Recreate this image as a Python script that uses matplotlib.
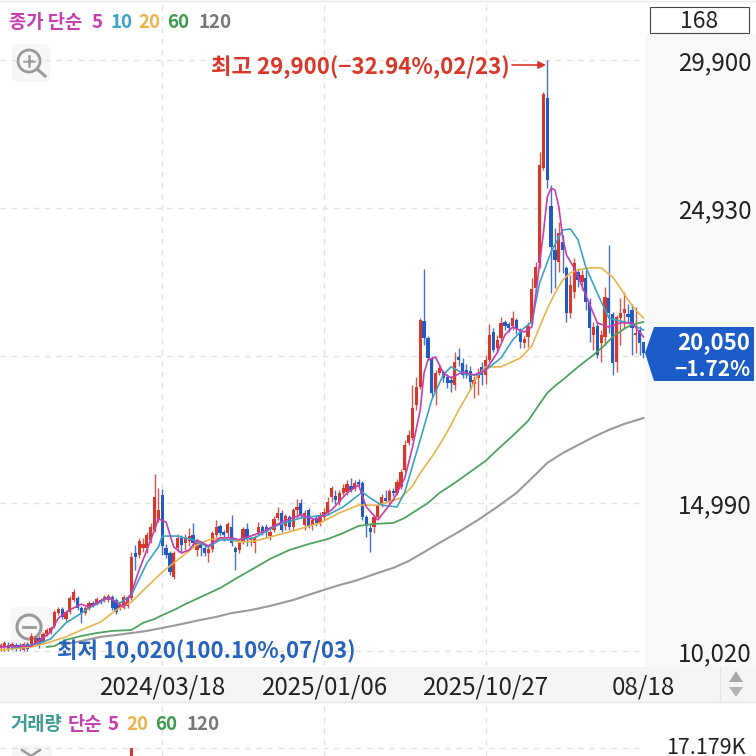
import numpy as np
import matplotlib
matplotlib.use("Agg")
import matplotlib.pyplot as plt
from matplotlib.patches import Circle, FancyBboxPatch, Polygon, Rectangle

plt.rcParams['font.family'] = ['Noto Sans CJK KR', 'DejaVu Sans']

# ------------------------
# DATA (weekly candles)
# ------------------------
opens = [
    10130, 10160, 10230, 10160, 10230, 10230, 10060, 10260, 10260, 10290,
    10460, 10330, 10600, 10660, 10870, 11300, 11440, 11100, 11340, 11740,
    11810, 11470, 11300, 11470, 11640, 11640, 11740, 11740, 11740, 11840,
    11740, 11470, 11500, 11540, 11810, 13320, 13250, 13490, 13490, 13760,
    14100, 14430, 15270, 13490, 13320, 12510, 13490, 13830, 13660, 13720,
    13930, 13420, 13620, 13490, 13320, 13460, 13930, 14230, 14030, 13990,
    14200, 13490, 13420, 13690, 14130, 13760, 13660, 14030, 14200, 14200,
    13890, 14100, 14500, 14670, 14230, 14530, 14200, 14770, 15000, 14260,
    14770, 14260, 14500, 14330, 14530, 14670, 15200, 15240, 15040, 15340,
    15370, 15570, 15470, 15710, 15680, 14530, 14160, 14200, 14530, 14930,
    15170, 15040, 15400, 15340, 15540, 16110, 17020, 17190, 18300, 18900,
    21120, 20550, 19880, 18730, 19380, 19410, 19240, 19140, 18970, 19910,
    19710, 19470, 19440, 19000, 19210, 19580, 19310, 19810, 20750, 20210,
    20550, 21090, 21020, 20950, 21160, 20820, 20380, 20590, 21090, 22230,
    23070, 26270, 28620, 24990, 23510, 23110, 23780, 22910, 21390, 22100,
    22770, 22430, 22570, 21760, 20650, 20950, 20380, 20590, 21900, 21360,
    19740, 21220, 21390, 21360, 21490, 20650, 20820, 20400,
]
highs = [
    10290, 10360, 10330, 10330, 10290, 10290, 10330, 10330, 10630, 10530,
    10530, 10660, 10800, 10870, 11410, 11500, 11500, 11410, 11870, 12110,
    11870, 11540, 11540, 11710, 11710, 11840, 11810, 11910, 11940, 11910,
    11810, 11640, 11910, 11910, 13360, 13590, 13830, 13830, 14030, 14330,
    15980, 15510, 15470, 13620, 13390, 13390, 13960, 13930, 13960, 14160,
    14330, 13760, 13720, 13590, 13590, 14060, 14430, 14300, 14100, 14360,
    14600, 13560, 13720, 14200, 14330, 13890, 13930, 14360, 14270, 14300,
    14100, 14570, 14870, 14770, 14630, 14600, 14830, 15140, 15140, 14770,
    14830, 14500, 14600, 14700, 14830, 15200, 15570, 15440, 15440, 15640,
    15780, 15840, 15780, 15810, 15740, 14600, 14300, 14600, 15000, 15310,
    15440, 15470, 15510, 15810, 16150, 17120, 17460, 18970, 19240, 21230,
    22870, 20620, 19950, 19470, 19640, 19470, 19340, 19270, 20080, 20210,
    19880, 19680, 19610, 19270, 19540, 19740, 19980, 21020, 20890, 20650,
    21260, 21160, 21090, 21460, 21220, 20890, 20620, 21090, 22570, 23110,
    26810, 28820, 29900, 25700, 24250, 24450, 24010, 22970, 22670, 23240,
    22910, 22840, 22840, 21900, 21090, 21090, 20820, 22270, 23680, 21430,
    21330, 21900, 22100, 21680, 21680, 21590, 20950, 20420,
]
lows = [
    10030, 10030, 10030, 10060, 10030, 10020, 10030, 10030, 10190, 10190,
    10130, 10260, 10530, 10600, 10800, 11230, 11100, 11030, 11270, 11670,
    11410, 10970, 11230, 11410, 11500, 11570, 11600, 11670, 11670, 11410,
    11270, 11410, 11440, 11470, 11740, 12750, 13150, 13360, 13320, 13660,
    14030, 14360, 13250, 13150, 12580, 12440, 13360, 13320, 13420, 13560,
    13560, 13220, 13220, 13220, 13020, 13360, 13860, 13890, 13720, 13860,
    13560, 12750, 13320, 13620, 13560, 13560, 13320, 13930, 13930, 13830,
    13760, 14030, 14430, 14030, 14100, 14100, 14100, 14500, 14530, 14100,
    14160, 14100, 14230, 14230, 14430, 14600, 15040, 14970, 14930, 15270,
    15270, 15370, 15400, 15570, 14430, 13860, 13360, 13990, 14470, 14870,
    15000, 14930, 15240, 15270, 15470, 16050, 16950, 17120, 18130, 18830,
    20320, 19810, 18570, 18300, 19310, 19070, 18870, 18730, 18800, 19610,
    19210, 19210, 18800, 18530, 18640, 18970, 19000, 19740, 20080, 20080,
    20450, 20820, 20750, 20820, 20680, 20210, 20210, 20250, 21020, 22100,
    22900, 26200, 25590, 22060, 22230, 22770, 22740, 21090, 21220, 21900,
    22270, 22170, 21490, 20420, 20150, 19880, 19740, 20320, 20720, 19310,
    19410, 20320, 20890, 21090, 19980, 20050, 19980, 19880,
]
closes = [
    10230, 10290, 10090, 10260, 10090, 10130, 10260, 10090, 10530, 10460,
    10230, 10600, 10730, 10800, 11340, 11440, 11170, 11340, 11810, 12010,
    11470, 11300, 11470, 11640, 11570, 11770, 11670, 11840, 11870, 11470,
    11340, 11570, 11840, 11840, 13190, 13190, 13720, 13620, 13930, 14200,
    15200, 14770, 13560, 13250, 12680, 13320, 13830, 13590, 13860, 13890,
    13660, 13660, 13490, 13320, 13460, 13990, 14200, 13990, 13930, 14300,
    13660, 13360, 13660, 14130, 13830, 13830, 13860, 14200, 14030, 14030,
    14030, 14470, 14670, 14100, 14570, 14200, 14770, 14870, 14600, 14670,
    14230, 14430, 14330, 14600, 14700, 15040, 15510, 15100, 15340, 15510,
    15640, 15440, 15680, 15640, 14530, 14230, 14030, 14530, 14930, 15200,
    15070, 15400, 15340, 15710, 16050, 16950, 17290, 18200, 18900, 21160,
    20550, 19880, 18700, 19380, 19540, 19210, 19040, 19040, 19740, 19810,
    19310, 19310, 19070, 19140, 19380, 19310, 19810, 20650, 20150, 20480,
    21050, 20950, 20890, 21220, 20850, 20420, 20520, 20950, 22200, 22940,
    26370, 28760, 25870, 23610, 23180, 24080, 23510, 21390, 22330, 23070,
    22500, 22670, 21760, 20890, 20920, 19980, 20650, 21930, 21390, 19710,
    21260, 21390, 21530, 21260, 20890, 20720, 20380, 20050,
]

ma5_idx = [0, 8, 11, 13, 15, 18, 21, 23, 25, 28, 30, 32, 34, 36, 38, 40, 41, 43, 45, 47,
           49, 51, 54, 57, 60, 62, 68, 73, 78, 82, 86, 90, 93, 95, 98, 102, 105, 107, 109, 110,
           111, 113, 115, 117, 120, 123, 126, 129, 131, 133, 136, 138, 139, 141, 142, 143, 144, 145, 146, 147,
           149, 152, 155, 158, 161, 164, 167]
ma5_val = [10160, 10190, 10460, 10660, 11130, 11410, 11600, 11500, 11640, 11840, 11670, 11500, 11980, 12750, 13420, 14100, 14470, 14360, 13520, 13320,
           13420, 13760, 13560, 13830, 13830, 13760, 14030, 14360, 14600, 14430, 14770, 15340, 15610, 14870, 14430, 15100, 15840, 16880, 18130, 19370,
           19810, 19910, 19370, 19210, 19410, 19310, 19470, 20050, 20650, 20920, 20750, 20920, 22000, 24080, 25290, 25590, 25530, 24960, 23950, 23340,
           22910, 22000, 21060, 20920, 21060, 21060, 20590]

ma10_idx = [3, 8, 11, 13, 17, 21, 23, 28, 31, 34, 38, 41, 42, 46, 50, 54, 57, 61, 66, 72,
            78, 85, 89, 94, 96, 99, 103, 105, 109, 112, 115, 117, 121, 124, 126, 130, 133, 136, 138, 140,
            143, 146, 148, 150, 152, 155, 158, 163, 167]
ma10_val = [10130, 10230, 10330, 10430, 10970, 11300, 11470, 11810, 11640, 11910, 12980, 13520, 13890, 13890, 13760, 13520, 13760, 13760, 13830, 14260,
            14500, 14600, 14870, 15370, 15170, 14930, 14870, 15370, 17120, 18470, 19310, 19580, 19310, 19310, 19470, 19880, 20480, 20890, 21090, 22400,
            23440, 24180, 24220, 23850, 22940, 22060, 21220, 21060, 20820]

ma20_idx = [0, 8, 13, 17, 21, 26, 30, 34, 38, 42, 47, 51, 54, 57, 62, 66, 75, 83, 88, 93,
            98, 104, 107, 109, 112, 114, 117, 119, 122, 124, 126, 130, 135, 138, 140, 142, 144, 146, 148, 150,
            153, 156, 159, 161, 163, 165, 167]
ma20_val = [10060, 10160, 10330, 10500, 10730, 11000, 11400, 11670, 12180, 12680, 13190, 13590, 13760, 13830, 13690, 13720, 14030, 14330, 14670, 14930,
            14930, 15170, 15570, 16010, 16550, 16950, 17620, 18130, 18800, 19310, 19580, 19580, 19880, 20280, 20920, 21530, 22060, 22500, 22740, 22840,
            22910, 22910, 22600, 22230, 21830, 21490, 21220]

ma60_idx = [12, 14, 17, 21, 25, 29, 34, 37, 40, 42, 45, 48, 52, 57, 61, 66, 70, 75, 80, 85,
            89, 93, 97, 102, 105, 107, 111, 114, 118, 122, 126, 129, 133, 137, 140, 142, 144, 146, 150, 154,
            157, 159, 162, 164, 167]
ma60_val = [10160, 10190, 10400, 10530, 10630, 10700, 10730, 10970, 11100, 11230, 11400, 11600, 11840, 12140, 12450, 12820, 13120, 13420, 13620, 13790,
            13990, 14230, 14300, 14330, 14500, 14670, 15000, 15340, 15680, 16050, 16420, 16790, 17260, 17760, 18330, 18700, 18940, 19140, 19580, 19980,
            20320, 20590, 20860, 21000, 21090]

ma120_idx = [16, 21, 26, 30, 34, 38, 42, 47, 52, 56, 60, 65, 70, 76, 80, 84, 88, 92, 98, 102,
             106, 110, 114, 119, 124, 129, 134, 138, 142, 146, 150, 154, 158, 162, 167]
ma120_val = [10230, 10360, 10500, 10560, 10630, 10700, 10800, 10930, 11070, 11170, 11300, 11400, 11540, 11740, 11910, 12080, 12240, 12380, 12650, 12820,
             13050, 13350, 13660, 14030, 14430, 14870, 15340, 15840, 16350, 16680, 16950, 17220, 17460, 17660, 17860]

vol_idx = [34]
vol_val = [17179]

price_ticks = [29900, 24930, 19960, 14990, 10020]
price_labels = ['29,900', '24,930', '', '14,990', '10,020']
date_ticks = [42, 84, 126, 167]
date_labels = ['2024/03/18', '2025/01/06', '2025/10/27', '08/18']

RED = '#d8382a'
BLUE = '#2259c4'
MAGENTA = '#c53fb0'
TEAL = '#3aa3c6'
ORANGE = '#e9b44c'
GREEN = '#4ea35f'
GRAY = '#9a9a9a'
GRID = '#e2e2e2'
W = H = 756
LABEL_SIZE = 17.4


def px_rect(left, top, right, bottom):
    return [left / W, 1 - bottom / H, (right - left) / W, (bottom - top) / H]


def px_overlay(fig, zorder):
    a = fig.add_axes([0, 0, 1, 1], zorder=zorder)
    a.set_xlim(0, W)
    a.set_ylim(H, 0)
    a.axis('off')
    return a


fig = plt.figure(figsize=(7.56, 7.56), dpi=100, facecolor='white')

# ------------------------
# BACKGROUND PANELS AND ICONS
# ------------------------
bg = px_overlay(fig, 0)
bg.add_patch(Rectangle((645, 34), 111, 633, color='#f8f9fb', lw=0))
bg.add_patch(Rectangle((0, 667), 756, 35, color='#f5f5f5', lw=0))
bg.plot([0, 756], [702, 702], color='#e4e4e4', lw=1)
bg.plot([0, 756], [0.5, 0.5], color='#e8e8e8', lw=1)
bg.plot([720, 720], [667, 702], color='#e6e6e6', lw=1)
bg.add_patch(Polygon([(736, 671), (743, 682), (729, 682)], color='#a8a8a8', lw=0))
bg.add_patch(Polygon([(729, 687), (743, 687), (736, 697)], color='#b4b4b4', lw=0))
bg.add_patch(FancyBboxPatch((12, 44), 38, 38, boxstyle='round,pad=0,rounding_size=6', fc='#f7f7f7', ec='none'))
bg.add_patch(FancyBboxPatch((10, 607), 42, 42, boxstyle='round,pad=0,rounding_size=6', fc='#f7f7f7', ec='none'))
bg.add_patch(FancyBboxPatch((12, 745), 40, 30, boxstyle='round,pad=0,rounding_size=6', fc='#f7f7f7', ec='none'))
bg.add_patch(Circle((29, 61), 11, fc='none', ec='#9a9a9a', lw=2))
bg.plot([37, 45], [69, 76], color='#9a9a9a', lw=2.2)
bg.plot([24, 34], [61, 61], color='#9a9a9a', lw=1.8)
bg.plot([29, 29], [56, 66], color='#9a9a9a', lw=1.8)
bg.add_patch(Circle((29, 627), 12, fc='none', ec='#9a9a9a', lw=2.2))
bg.plot([23, 35], [627, 627], color='#9a9a9a', lw=2)
bg.plot([22, 31, 40], [750, 756, 750], color='#9a9a9a', lw=1.8)

# ------------------------
# PRICE PANEL
# ------------------------
ax = fig.add_axes(px_rect(0, 0, 645, 666), zorder=1)
ax.patch.set_alpha(0)
ax.set_xlim(-0.14, 167.39)
ax.set_ylim(9520, 31918)

x = np.arange(len(closes))
colors = [RED if c >= o else BLUE for o, c in zip(opens, closes)]
ax.vlines(x, lows, highs, colors=colors, lw=1.0, alpha=0.85, zorder=3)
ax.bar(x, np.abs(np.array(closes) - np.array(opens)), bottom=np.minimum(opens, closes),
       width=0.85, color=colors, lw=0, zorder=3)

ax.plot(ma120_idx, ma120_val, color=GRAY, lw=1.5, zorder=4)
ax.plot(ma60_idx, ma60_val, color=GREEN, lw=1.3, zorder=4)
ax.plot(ma20_idx, ma20_val, color=ORANGE, lw=1.2, zorder=4)
ax.plot(ma10_idx, ma10_val, color=TEAL, lw=1.2, zorder=4)
ax.plot(ma5_idx, ma5_val, color=MAGENTA, lw=1.2, zorder=4)

ax.yaxis.tick_right()
ax.set_yticks(price_ticks)
ax.set_yticklabels(price_labels, fontsize=LABEL_SIZE, color='#222222', va='center_baseline')
ax.set_xticks(date_ticks)
ax.set_xticklabels(date_labels, fontsize=LABEL_SIZE, color='#222222')
ax.tick_params(axis='y', length=0, pad=24)
ax.tick_params(axis='x', length=0, pad=6)
ax.grid(True, color=GRID, ls=(0, (4, 4)), lw=1)
ax.get_xgridlines()[3].set_visible(False)
ax.set_axisbelow(True)
for s in ax.spines.values():
    s.set_visible(False)

# ------------------------
# VOLUME PANEL (only its top edge is on screen)
# ------------------------
vax = fig.add_axes(px_rect(0, 702, 645, 756), zorder=1)
vax.patch.set_alpha(0)
vax.set_xlim(-0.14, 167.39)
vax.set_ylim(16379, 21779)
vax.bar(vol_idx, vol_val, width=0.6, color=RED, lw=0, zorder=3)
vax.yaxis.tick_right()
vax.set_yticks([17179])
vax.set_yticklabels(['17.179K'], fontsize=15.5, color='#222222', va='center')
vax.set_xticks(date_ticks[:3])
vax.set_xticklabels([])
vax.tick_params(axis='both', length=0)
vax.tick_params(axis='y', pad=15)
vax.grid(True, color=GRID, ls=(0, (4, 4)), lw=1)
vax.set_axisbelow(True)
for s in vax.spines.values():
    s.set_visible(False)

# ------------------------
# TEXT AND OVERLAYS
# ------------------------
fg = px_overlay(fig, 5)

for txt, xpos, col in [('종가 단순', 9, MAGENTA), ('5', 92, MAGENTA), ('10', 110, TEAL),
                       ('20', 138, ORANGE), ('60', 167, '#3f9a4f'), ('120', 198, '#777777')]:
    fg.text(xpos, 23, txt, fontsize=13.5, color=col, va='center', ha='left', fontweight='bold')

for txt, xpos, col in [('거래량', 10, '#3f9c94'), ('단순', 68, MAGENTA), ('5', 108, MAGENTA),
                       ('20', 126, ORANGE), ('60', 155, '#3f9a4f'), ('120', 186, '#777777')]:
    fg.text(xpos, 725, txt, fontsize=13.5, color=col, va='center', ha='left', fontweight='bold')

fg.add_patch(Rectangle((649.5, 6.5), 99, 26, fc='white', ec='#444444', lw=0.8))
fg.text(699, 19, '168', fontsize=16.5, color='#222222', ha='center', va='center_baseline')

fg.text(211, 65, '최고 29,900(−32.94%,02/23)', fontsize=16, color=RED, ha='left', va='center_baseline',
        fontweight='bold')
fg.annotate('', xy=(546, 65), xytext=(512, 65),
            arrowprops=dict(arrowstyle='-|>', color=RED, lw=1.2, mutation_scale=11, shrinkA=0, shrinkB=0))
fg.text(57, 649, '최저 10,020(100.10%,07/03)', fontsize=16, color='#2563bd', ha='left', va='center_baseline',
        fontweight='bold')

fg.add_patch(Polygon([(645, 353), (654, 327), (754, 327), (754, 381), (654, 381)], color='#1c5cc8', lw=0))
fg.text(750, 340, '20,050', fontsize=16, color='white', ha='right', va='center_baseline', fontweight='bold')
fg.text(750, 368, '−1.72%', fontsize=15, color='white', ha='right', va='center_baseline', fontweight='bold')

fig.savefig('out.png', dpi=100)
